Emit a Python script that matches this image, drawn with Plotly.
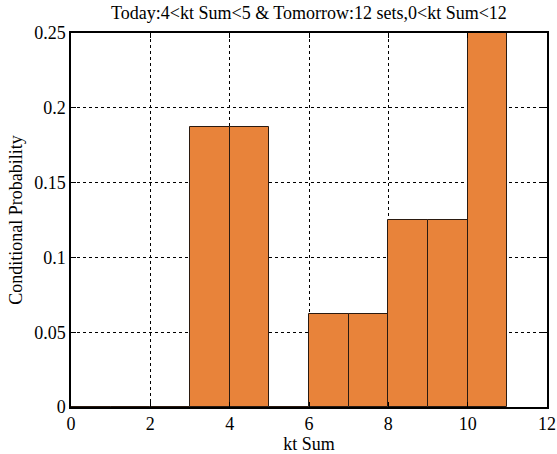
import plotly.graph_objects as go

bin_centers = [0.5, 1.5, 2.5, 3.5, 4.5, 5.5, 6.5, 7.5, 8.5, 9.5, 10.5]
probabilities = [0, 0, 0, 0.1875, 0.1875, 0, 0.0625, 0.0625, 0.125, 0.125, 0.25]
x_ticks = [0, 2, 4, 6, 8, 10, 12]
y_ticks = [0, 0.05, 0.1, 0.15, 0.2, 0.25]
y_tick_labels = ["0", "0.05", "0.1", "0.15", "0.2", "0.25"]

font = dict(family="Liberation Serif, Times New Roman, serif", size=18, color="black")

fig = go.Figure()
fig.add_trace(go.Bar(
    x=bin_centers, y=probabilities, width=1,
    marker=dict(color="#E8833A", line=dict(color="#2a1a10", width=1)),
))

axis_common = dict(
    showline=True, linecolor="black", linewidth=1.5, mirror="ticks",
    ticks="inside", ticklen=5, tickcolor="black",
    showgrid=True, gridcolor="black", griddash="dot", gridwidth=1,
    zeroline=False, tickfont=font, automargin=False,
)

fig.update_layout(
    width=557, height=454,
    margin=dict(l=71, r=10, t=33, b=47, autoexpand=False),
    paper_bgcolor="white", plot_bgcolor="white",
    font=font, showlegend=False, bargap=0,
    title=dict(text="Today:4<kt Sum<5 & Tomorrow:12 sets,0<kt Sum<12",
               x=0.5, xref="paper", y=1 - 13 / 454, yref="container", yanchor="middle",
               automargin=False,
               font=dict(family=font["family"], size=18, color="black")),
    xaxis=dict(range=[0, 12], tickvals=x_ticks, ticktext=[str(v) for v in x_ticks],
               title=dict(text="kt Sum", standoff=0, font=font), **axis_common),
    yaxis=dict(range=[0, 0.25], tickvals=y_ticks, ticktext=y_tick_labels,
               title=dict(text="Conditional Probability", standoff=7, font=font), **axis_common),
)

fig.write_html("out.html",
               config={"displayModeBar": False},
               post_script="document.body.style.margin='0';document.body.style.overflow='hidden';")
